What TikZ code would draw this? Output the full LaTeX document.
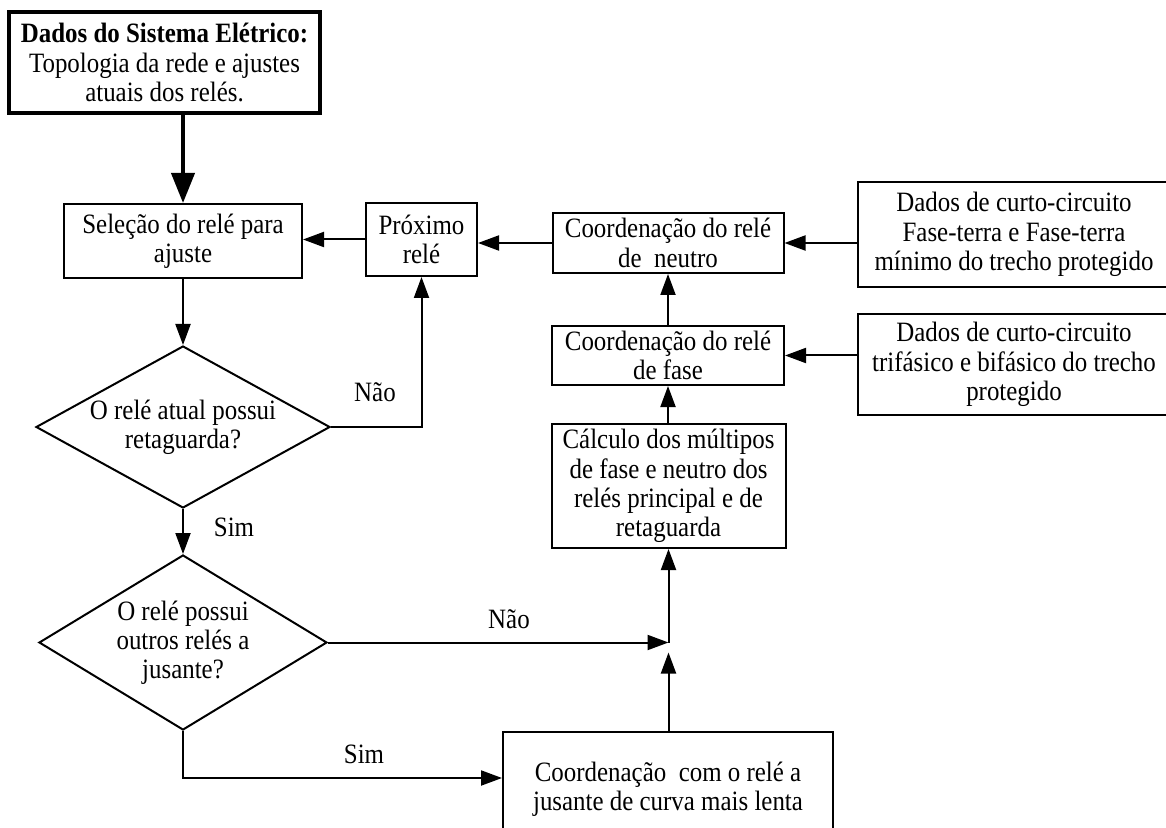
\documentclass[tikz,border=0pt]{standalone}
\usepackage{fontspec}
\setmainfont{Liberation Serif}[FakeStretch=0.89]
\usetikzlibrary{arrows.meta,shapes.geometric}
\begin{document}
\begin{tikzpicture}[x=0.5pt,y=-0.5pt,
  every node/.style={font=\fontsize{14}{14.6}\selectfont},
  box/.style={draw,line width=1pt,rectangle,inner sep=0pt,align=center},
  dec/.style={draw,line width=1pt,diamond,inner sep=0pt},
  lbl/.style={inner sep=0pt,align=center},
  flow/.style={line width=1pt,-{Triangle[length=10.5pt,width=7.5pt]}},
  heavy/.style={line width=2pt,-{Triangle[length=15pt,width=11.5pt]}}]
\useasboundingbox (0,0) rectangle (1166,828);
\clip (0,0) rectangle (1166,828);

% boxes
\node[box,line width=2pt,minimum width=155.5pt,minimum height=50.5pt] (top) at (164.5,62.5)
  {\textbf{Dados do Sistema Elétrico:}\\Topologia da rede e ajustes\\atuais dos relés.};
\node[box,minimum width=119pt,minimum height=37pt] (sel) at (183,241) {Seleção do relé para\\ajuste};
\node[box,minimum width=55.5pt,minimum height=36.5pt] (prox) at (421.5,239.5) {Próximo\\relé};
\node[box,minimum width=115.5pt,minimum height=30pt] (neutro) at (668,243) {Coordenação do relé\\de\ \ neutro};
\node[box,minimum width=116pt,minimum height=29.5pt] (fase) at (668,355.5) {Coordenação do relé\\de fase};
\node[box,minimum width=117pt,minimum height=62pt] (calc) at (668.5,486)
  {Cálculo dos múltipos\\de fase e neutro dos\\relés principal e de\\retaguarda};
\node[box,minimum width=156pt,minimum height=52.5pt] (curtoN) at (1014,234.5)
  {Dados de curto-circuito\\Fase-terra e Fase-terra\\mínimo do trecho protegido};
\node[box,minimum width=156pt,minimum height=50.5pt] (curtoF) at (1014,364.5)
  {Dados de curto-circuito\\trifásico e bifásico do trecho\\protegido};
\node[box,minimum width=165pt,minimum height=57pt] (bottom) at (668,789)
  {Coordenação\ \ com o relé a\\jusante de curva mais lenta};

% decisions
\node[dec,minimum width=147pt,minimum height=81pt] (d1) at (183,427) {};
\node[lbl] (d1t) at (d1) {O relé atual possui\\retaguarda?};
\node[dec,minimum width=144pt,minimum height=87.5pt] (d2) at (183,642.5) {};
\node[lbl] (d2t) at (d2) {O relé possui\\outros relés a\\jusante?};

% junction below the multiples box
\coordinate (j) at (calc.south |- d2.east);
\coordinate (jb) at ([yshift=-5pt]j);

% connectors
\draw[heavy] (top.south -| sel.north) -- (sel.north);
\draw[flow] (sel.south) -- (d1.north);
\draw[flow] (prox.west) -- (prox.west -| sel.east);
\draw[flow] (neutro.west) -- (neutro.west -| prox.east);
\draw[flow] (curtoN.west |- neutro.east) -- (neutro.east);
\draw[flow] (curtoF.west |- fase.east) -- (fase.east);
\draw[flow] (fase.north) -- (neutro.south);
\draw[flow] (calc.north -| fase.south) -- (fase.south);
\draw[flow] (d1.east) -| (prox.south);
\draw[flow] (d1.south) -- (d2.north);
\draw[flow] (d2.east) -- (j);
\draw[flow] (j) -- (calc.south);
\draw[flow] (bottom.north -| jb) -- (jb);
\draw[flow] (d2.south) |- ([yshift=5.5pt]bottom.west);

% branch labels
\node[lbl] (n1) at (375,392) {Não};
\node[lbl] (s1) at (234,527) {Sim};
\node[lbl] (n2) at (509,619) {Não};
\node[lbl] (s2) at (364,754) {Sim};
\end{tikzpicture}
\end{document}
